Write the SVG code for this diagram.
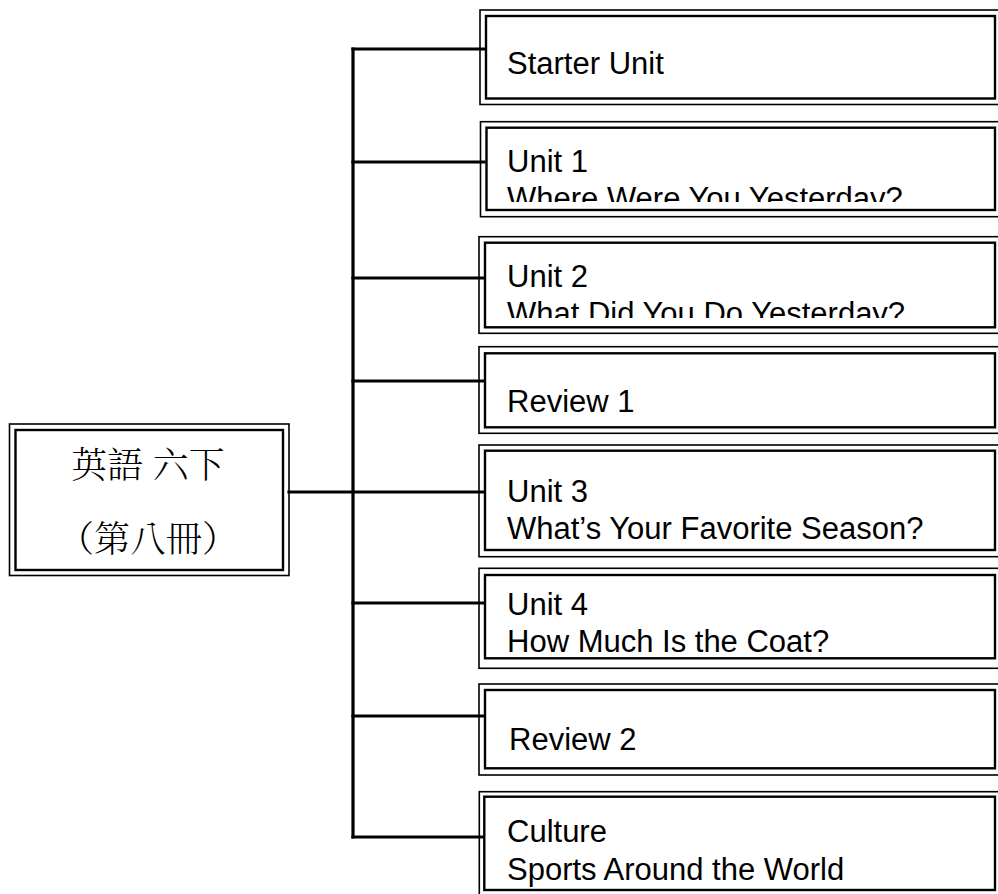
<svg xmlns="http://www.w3.org/2000/svg" width="998" height="894" viewBox="0 0 998 894">
<style>
.outer{fill:none;stroke:#000;stroke-width:1.6}
.inner{fill:#fff;stroke:#000;stroke-width:2.4}
.conn{fill:none;stroke:#000;stroke-width:3.2;stroke-linecap:square}
.t{font-family:"Liberation Sans",Arial,sans-serif;font-size:31px;fill:#000}
.cjk{font-family:"Noto Serif CJK TC","Noto Sans CJK TC","Noto Sans CJK SC",serif;font-size:36px;font-weight:300;fill:#000;text-anchor:middle}
</style>
<defs>
<clipPath id="c1"><rect x="486" y="128" width="509" height="74"/></clipPath>
<clipPath id="c2"><rect x="486" y="243" width="509" height="75"/></clipPath>
</defs>
<rect width="998" height="894" fill="#fff"/>
<g id="connectors">
<path class="conn" d="M353 49V837"/>
<path class="conn" d="M289 492H485"/>
<path class="conn" d="M353 49H484"/>
<path class="conn" d="M353 162H484"/>
<path class="conn" d="M353 278H484"/>
<path class="conn" d="M353 381H484"/>
<path class="conn" d="M353 603H484"/>
<path class="conn" d="M353 716H484"/>
<path class="conn" d="M353 837H484"/>
</g>
<g id="root">
<rect class="outer" x="9.5" y="424" width="279.5" height="151.5"/>
<rect class="inner" x="15.5" y="430" width="267.5" height="140"/>
<text class="cjk" x="148" y="478">英語 六下</text>
<text class="cjk" x="148" y="552">（第八冊）</text>
</g>
<g id="starter">
<rect class="outer" x="480" y="10" width="530" height="94.5"/>
<rect class="inner" x="486" y="16" width="509" height="82.5"/>
<text class="t" x="507" y="74">Starter Unit</text>
</g>
<g id="unit1">
<rect class="outer" x="480.5" y="121.7" width="530" height="95"/>
<rect class="inner" x="486.5" y="127.7" width="508.5" height="82.3"/>
<g clip-path="url(#c1)"><text class="t" x="507" y="172">Unit 1<tspan x="507" y="209">Where Were You Yesterday?</tspan></text></g>
</g>
<g id="unit2">
<rect class="outer" x="479" y="236.7" width="530" height="96.6"/>
<rect class="inner" x="485" y="242.7" width="510" height="84.6"/>
<g clip-path="url(#c2)"><text class="t" x="507" y="287">Unit 2<tspan x="507" y="324">What Did You Do Yesterday?</tspan></text></g>
</g>
<g id="review1">
<rect class="outer" x="479" y="346.7" width="530" height="86.6"/>
<rect class="inner" x="485" y="353.3" width="510" height="74"/>
<text class="t" x="507" y="412">Review 1</text>
</g>
<g id="unit3">
<rect class="outer" x="479" y="445" width="530" height="111.7"/>
<rect class="inner" x="485" y="450.7" width="510" height="99.3"/>
<text class="t" x="507" y="502">Unit 3<tspan x="507" y="539">What’s Your Favorite Season?</tspan></text>
</g>
<g id="unit4">
<rect class="outer" x="479" y="568.3" width="530" height="100"/>
<rect class="inner" x="485" y="575" width="510" height="83.3"/>
<text class="t" x="507" y="615">Unit 4<tspan x="507" y="652">How Much Is the Coat?</tspan></text>
</g>
<g id="review2">
<rect class="outer" x="479" y="684" width="530" height="91"/>
<rect class="inner" x="485" y="690" width="510" height="78.3"/>
<text class="t" x="509" y="750">Review 2</text>
</g>
<g id="culture">
<rect class="outer" x="479.3" y="791.7" width="530" height="110"/>
<rect class="inner" x="484.3" y="796.7" width="510.7" height="93.3"/>
<text class="t" x="507" y="842">Culture<tspan x="507" y="880">Sports Around the World</tspan></text>
</g>
</svg>
